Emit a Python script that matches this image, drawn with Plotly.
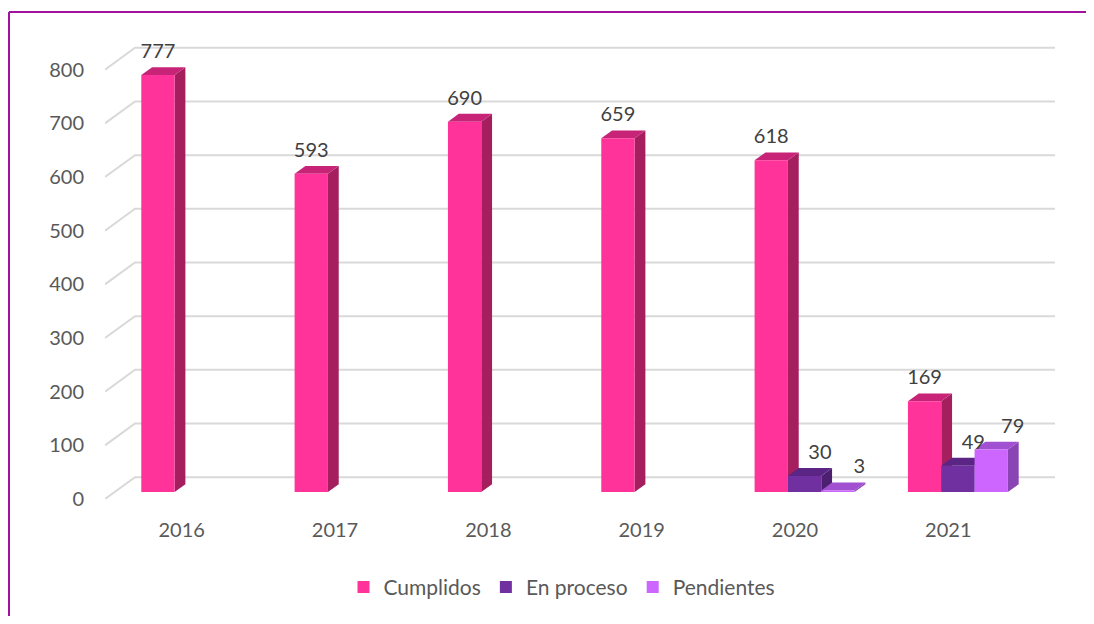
import plotly.graph_objects as go

# ---------------- data ----------------
years = ["2016", "2017", "2018", "2019", "2020", "2021"]
series_names = ["Cumplidos", "En proceso", "Pendientes"]
cumplidos = [777, 593, 690, 659, 618, 169]
en_proceso = [None, None, None, None, 30, 49]
pendientes = [None, None, None, None, 3, 79]
y_ticks = [0, 100, 200, 300, 400, 500, 600, 700, 800]

series_values = [cumplidos, en_proceso, pendientes]
front_colors = ["#FF3399", "#7030A0", "#CC66FF"]
side_colors = ["#A51E5E", "#4C1F70", "#8A44B3"]
top_colors = ["#C72478", "#5A2585", "#A050D0"]
label_dx = [0.0, 0.10, 0.14]

# ---------------- geometry (pseudo 3D) ----------------
PX_X = 153.33          # pixels per category unit
PX_V = 0.54            # pixels per value unit
DX = 30 / PX_X         # wall depth in x units
DY = 22 / PX_V         # wall depth in value units
F = 0.32               # bar front depth fraction
B = 0.68               # bar back depth fraction
HALF_GROUP = 0.326
BW = 2 * HALF_GROUP / 3
PLOT_W = 959
PLOT_H = 486
XMAX = PLOT_W / PX_X
YMAX = PLOT_H / PX_V

fig = go.Figure()

GRID = "#D9D9D9"
# back wall gridlines + left wall diagonals
for v in y_ticks:
    fig.add_trace(go.Scatter(
        x=[0, DX, len(years) + DX], y=[v, v + DY, v + DY],
        mode="lines", line=dict(color=GRID, width=2),
        hoverinfo="skip", showlegend=False))

fdx, fdy = F * DX, F * DY
sdx, sdy = (B - F) * DX, (B - F) * DY

labels_x, labels_y, labels_t = [], [], []
for i, yr in enumerate(years):
    center = i + 0.5
    for j, vals in enumerate(series_values):
        v = vals[i]
        if v is None:
            continue
        xl = center - HALF_GROUP + j * BW + fdx
        xr = xl + BW
        b = fdy
        t = fdy + v
        # side face
        fig.add_trace(go.Scatter(
            x=[xr, xr + sdx, xr + sdx, xr, xr],
            y=[b, b + sdy, t + sdy, t, b],
            fill="toself", fillcolor=side_colors[j], mode="lines",
            line=dict(width=0, color=side_colors[j]),
            hoverinfo="skip", showlegend=False))
        # top face
        fig.add_trace(go.Scatter(
            x=[xl, xl + sdx, xr + sdx, xr, xl],
            y=[t, t + sdy, t + sdy, t, t],
            fill="toself", fillcolor=top_colors[j], mode="lines",
            line=dict(width=0, color=top_colors[j]),
            hoverinfo="skip", showlegend=False))
        # front face
        fig.add_trace(go.Scatter(
            x=[xl, xr, xr, xl, xl],
            y=[b, b, t, t, b],
            fill="toself", fillcolor=front_colors[j], mode="lines",
            line=dict(width=0, color=front_colors[j]),
            name=series_names[j], hovertemplate="%{text}", text=[str(v)] * 5,
            showlegend=False))
        labels_x.append((xl + xr) / 2 + label_dx[j])
        labels_y.append(t + 41)
        labels_t.append(str(v))

fig.add_trace(go.Scatter(
    x=labels_x, y=labels_y, text=labels_t, mode="text",
    textfont=dict(size=20, color="#404040", family="Lato"),
    hoverinfo="skip", showlegend=False, cliponaxis=False))

# legend entries
for j, name in enumerate(series_names):
    fig.add_trace(go.Scatter(
        x=[None], y=[None], mode="markers", name=name,
        marker=dict(symbol="square", size=13, color=front_colors[j])))

# page body has an 8px margin; plot area placed at x 105..1064, y 16..502 on the page
fig.update_layout(
    width=1078, height=608,
    margin=dict(l=97, r=1078 - 97 - PLOT_W, t=8, b=608 - 8 - PLOT_H),
    paper_bgcolor="white", plot_bgcolor="white",
    font=dict(family="Lato", size=20, color="#595959"),
    xaxis=dict(range=[0, XMAX], tickvals=[i + 0.5 for i in range(len(years))],
               ticktext=years, showgrid=False, zeroline=False, showline=False,
               ticks="", ticklabelstandoff=17, fixedrange=True),
    yaxis=dict(range=[0, YMAX], tickvals=y_ticks, showgrid=False, zeroline=False,
               showline=False, ticks="", ticklabelstandoff=20, fixedrange=True),
    legend=dict(orientation="h", x=(562 - 105) / PLOT_W, xanchor="center",
                y=(502 - 591) / PLOT_H, yanchor="middle",
                font=dict(size=21, color="#595959"), itemsizing="constant"),
    shapes=[
        dict(type="line", xref="paper", yref="paper",
             x0=(9 - 105) / PLOT_W, x1=(1200 - 105) / PLOT_W,
             y0=(502 - 12) / PLOT_H, y1=(502 - 12) / PLOT_H,
             line=dict(color="#A3129F", width=2), layer="below"),
        dict(type="line", xref="paper", yref="paper",
             x0=(9 - 105) / PLOT_W, x1=(9 - 105) / PLOT_W,
             y0=(502 - 12) / PLOT_H, y1=(502 - 700) / PLOT_H,
             line=dict(color="#A3129F", width=2), layer="below"),
    ],
)

fig.write_html("out.html")
